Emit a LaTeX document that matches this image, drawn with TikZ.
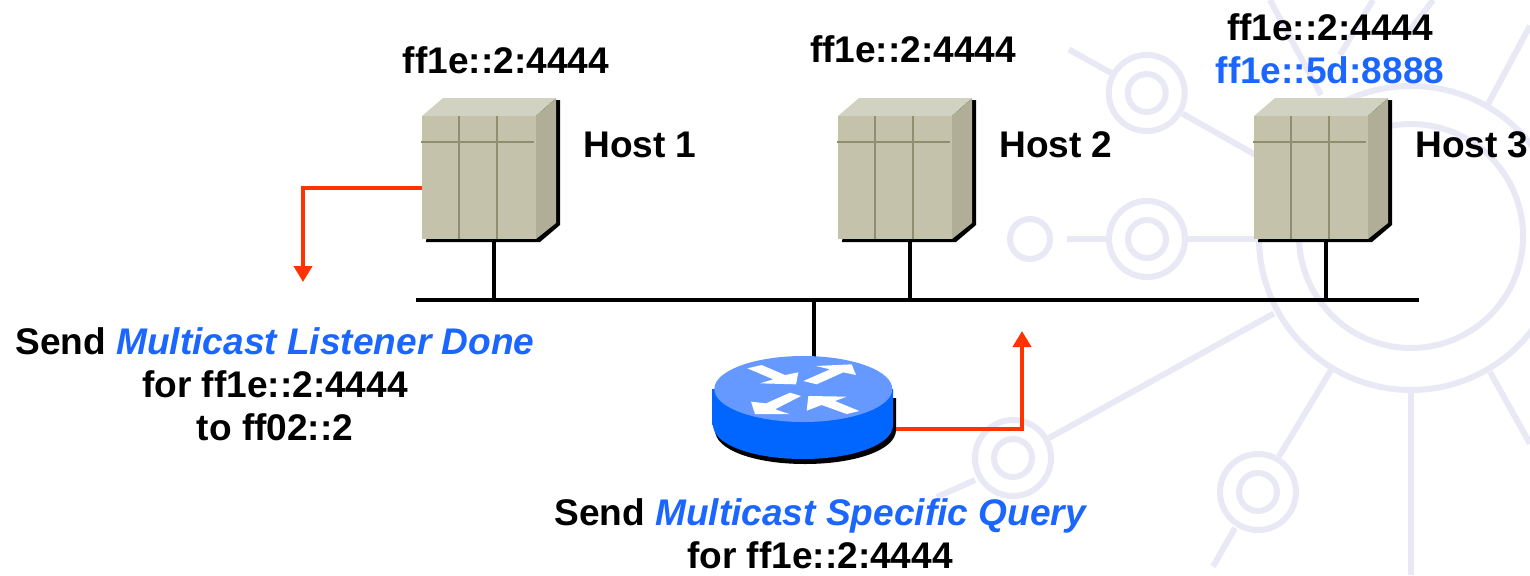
\documentclass[tikz,border=0pt]{standalone}
\usepackage{fontspec}
\setmainfont{Liberation Sans}
\usetikzlibrary{arrows.meta}
\definecolor{hostfront}{RGB}{196,194,170}
\definecolor{hosttop}{RGB}{210,210,194}
\definecolor{hostside}{RGB}{176,174,150}
\definecolor{hostgrid}{RGB}{143,143,111}
\definecolor{routerside}{RGB}{0,102,255}
\definecolor{routertop}{RGB}{102,153,255}
\definecolor{sendred}{RGB}{255,51,0}
\definecolor{labelblue}{RGB}{26,102,255}
\definecolor{backdrop}{RGB}{232,233,245}
\tikzset{
  backline/.style={draw=backdrop,line width=4.5pt},
  busline/.style={draw=black,line width=3.6pt},
  sendline/.style={draw=sendred,line width=3.4pt,-{Triangle[width=13.5pt,length=12pt]}},
  hostbox/.style={fill=hostfront,minimum width=85.5pt,minimum height=92.25pt,inner sep=0pt},
  routerbox/.style={minimum width=138pt,minimum height=60pt,inner sep=0pt},
  label/.style={font=\fontsize{27.8}{32.25}\selectfont\bfseries,align=center,inner sep=0pt}
}
\begin{document}
\begin{tikzpicture}[x=0.75pt,y=0.75pt,yscale=-1,xscale=1]
\useasboundingbox (0,0) rectangle (1530,575);

%Shape: background drawing
\draw [backline] (1411,238) circle [radius=152];
\draw [backline] (1411,236) circle [radius=112];
\foreach \cx/\cy in {1146.7/93,1147/239,1013/458,1258/492}{
\draw [backline] (\cx,\cy) circle [radius=38];
\draw [backline] (\cx,\cy) circle [radius=19];
}
\draw [backline] (1030,239) circle [radius=20];
\draw [backline] (1069,49.5) -- (1111.6,73.3);
\draw [backline] (1182.6,113.7) -- (1268,162);
\draw [backline] (1066.6,239) -- (1106.5,239);
\draw [backline] (1187.6,239) -- (1259,239);
\draw [backline] (1049,438) -- (1273.8,313.5);
\draw [backline] (975,480) -- (937,497);
\draw [backline] (1279,456.5) -- (1331,370);
\draw [backline] (1235,528) -- (1213,566.5);
\draw [backline] (1411,392) -- (1411,575);
\draw [backline] (1490,372) -- (1530,443.7);
\draw [backline] (1487,106) -- (1530,25.7);
\draw [backline] (1270,0) -- (1321,95);
\draw [backline] (1433,0) -- (1405,37);
\draw [backline] (1373,0) -- (1340,55);

%Straight Lines: bus
\coordinate (busleft) at (416,300);
\coordinate (busright) at (1419,300);
\coordinate (busrouter) at (814,300);
\coordinate (routertop) at (814,365);
\draw [busline] (busleft) -- (busright);
\draw [busline] (busrouter) -- (routertop);

%Shape: hosts
\foreach \n/\s in {1/0,2/416,3/832}{
\begin{scope}[shift={(\s,0)}]
\fill [black] (443,100) -- (560,100) -- (560,225) -- (540,242) -- (426,242) -- cycle;
\fill [hosttop] (422,116) -- (443,98) -- (556,98) -- (536,116) -- cycle;
\fill [hostside] (536,116) -- (556,98) -- (556,223) -- (536,239) -- cycle;
\node (host\n) [hostbox] at (479,177.5) {};
\draw [hostgrid,line width=1.4pt] (458.7,115.7) -- (458.7,239);
\draw [hostgrid,line width=1.4pt] (497,115.7) -- (497,239);
\draw [hostgrid,line width=1.2pt] (421,142) -- (534,142);
\draw [busline] ([xshift=11.25pt]host\n.south) -- ([xshift=11.25pt]host\n.south |- busleft);
\end{scope}
}

%Shape: router
\fill [black] (715,398) -- (896,398) -- (896,430) .. controls (896,450) and (855,464) .. (805,464) .. controls (755,464) and (715,450) .. (715,430) -- cycle;
\fill [routerside] (712,389) -- (893,389) -- (893,425) .. controls (893,445) and (852,459) .. (803,459) .. controls (754,459) and (713,445) .. (713,425) -- (712,425) -- cycle;
\fill [routertop] (803.3,389) ellipse [x radius=89,y radius=33];
\node (router) [routerbox] at (804,429) {};
\begin{scope}[shift={(690,340)},scale=1/3]
\fill [white] (172,85) -- (215,75) -- (285,105) -- (325,97) -- (318,133) -- (210,130) -- (250,118) -- cycle;
\fill [white] (340,123) -- (420,88) -- (378,78) -- (485,73) -- (498,105) -- (460,97) -- (380,133) -- cycle;
\fill [white] (333,168) -- (300,158) -- (228,190) -- (183,185) -- (195,222) -- (298,222) -- (255,208) -- cycle;
\fill [white] (470,170) -- (355,168) -- (350,212) -- (395,195) -- (470,222) -- (508,213) -- (435,183) -- cycle;
\end{scope}

%Straight Lines: messages
\coordinate (donetip) at (303,282);
\coordinate (querytip) at (1022,331);
\draw [sendline] ([yshift=7.9pt]host1.west) -| (donetip);
\draw [sendline] (router.east) -| (querytip);

% Text Node
\node (addr1) [label] at (506,60) {ff1e::2:4444};
\node (addr2) [label] at (913,49) {ff1e::2:4444};
\node (addr3) [label] at (1330,27) {ff1e::2:4444};
\node (addr3b) [label,text=labelblue] at (1330,70) {ff1e::5d:8888};
\node (name1) [label,anchor=west] at (583,145) {Host 1};
\node (name2) [label,anchor=west] at (999,145) {Host 2};
\node (name3) [label,anchor=west] at (1415,145) {Host 3};
\node (donetext) [label] at (275,384) {Send \textcolor{labelblue}{\itshape Multicast Listener Done}\\for ff1e::2:4444\\to ff02::2};
\node (querytext) [label] at (820,534) {Send \textcolor{labelblue}{\itshape Multicast Specific Query}\\for ff1e::2:4444};

\end{tikzpicture}
\end{document}
